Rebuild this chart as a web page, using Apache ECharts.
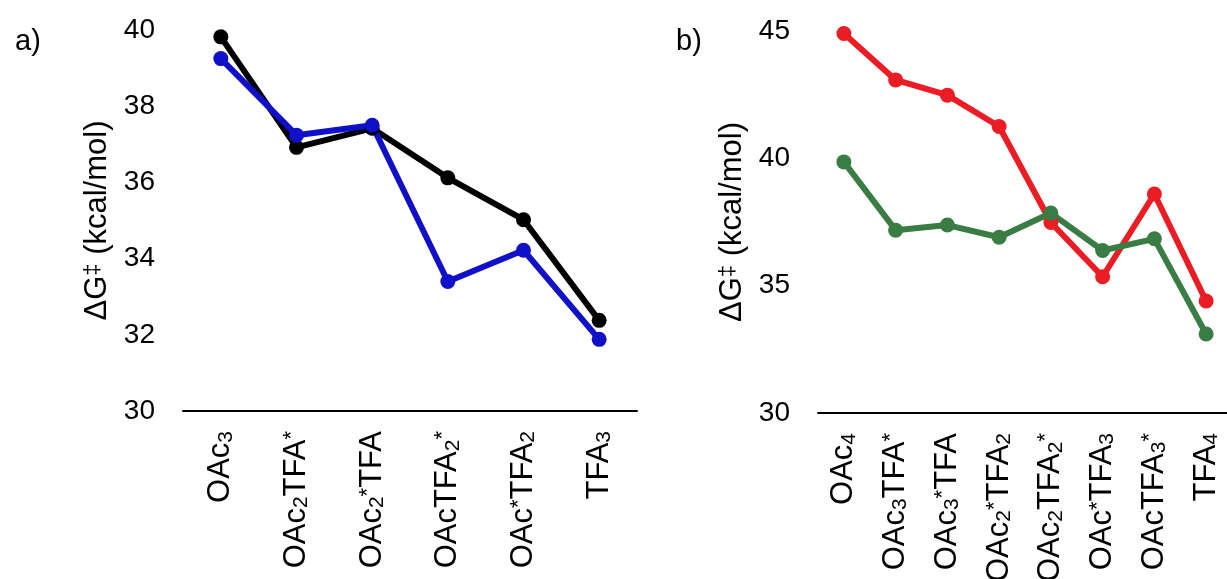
<!DOCTYPE html>
<html>
<head>
<meta charset="utf-8">
<script src="https://cdn.jsdelivr.net/npm/echarts@6/dist/echarts.min.js"></script>
<style>
html,body{margin:0;padding:0;background:#fff;}
#c{width:1227px;height:579px;}
</style>
</head>
<body>
<div id="c"></div>
<script>
// Panel a
const catsA = ['OAc{sub|3}', 'OAc{sub|2}TFA{sup|*}', 'OAc{sub|2}{sup|*}TFA', 'OAcTFA{sub|2}{sup|*}', 'OAc{sup|*}TFA{sub|2}', 'TFA{sub|3}'];
const blackA = [39.82, 36.92, 37.42, 36.12, 35.02, 32.38];
const blueA = [39.25, 37.24, 37.5, 33.4, 34.22, 31.88];
const ticksA = {min: 30, max: 40, interval: 2};

// Panel b
const catsB = ['OAc{sub|4}', 'OAc{sub|3}TFA{sup|*}', 'OAc{sub|3}{sup|*}TFA', 'OAc{sub|2}{sup|*}TFA{sub|2}', 'OAc{sub|2}TFA{sub|2}{sup|*}', 'OAc{sup|*}TFA{sub|3}', 'OAcTFA{sub|3}{sup|*}', 'TFA{sub|4}'];
const redB = [44.9, 43.08, 42.48, 41.25, 37.48, 35.35, 38.6, 34.4];
const greenB = [39.86, 37.18, 37.38, 36.9, 37.85, 36.38, 36.84, 33.1];
const ticksB = {min: 30, max: 45, interval: 5};

const FONT = 'Liberation Sans, Arial, sans-serif';
const richSub = {
  sub: {fontSize: 21, fontFamily: FONT, color: '#000', verticalAlign: 'bottom', lineHeight: 21, padding: [11, 0, 0, 0]},
  sup: {fontSize: 22, fontFamily: FONT, color: '#000', verticalAlign: 'top', lineHeight: 22}
};

function xAxis(idx, cats) {
  return {
    type: 'category', gridIndex: idx, data: cats, boundaryGap: true,
    axisLine: {show: true, lineStyle: {color: '#000', width: 2}},
    axisTick: {show: false},
    axisLabel: {
      rotate: 90, margin: 20, interval: 0, color: '#000', fontSize: 31, fontFamily: FONT,
      rich: richSub
    },
    splitLine: {show: false}
  };
}
function yAxis(idx, t) {
  return {
    type: 'value', gridIndex: idx, min: t.min, max: t.max, interval: t.interval,
    axisLine: {show: false}, axisTick: {show: false}, splitLine: {show: false},
    axisLabel: {color: '#000', fontSize: 28, fontFamily: FONT, margin: 28},
    name: 'ΔG{sup|‡} (kcal/mol)', nameLocation: 'middle', nameGap: 70, nameRotate: 90,
    nameTextStyle: {color: '#000', fontSize: 31, fontFamily: FONT,
      rich: {sup: {fontSize: 22, fontFamily: FONT, color: '#000', verticalAlign: 'top', lineHeight: 22}}}
  };
}
function line(xi, data, color) {
  return {
    type: 'line', xAxisIndex: xi, yAxisIndex: xi, data: data,
    symbol: 'circle', symbolSize: 15, showSymbol: true,
    lineStyle: {color: color, width: 6},
    itemStyle: {color: color},
    emphasis: {disabled: true}, animation: false
  };
}

const chart = echarts.init(document.getElementById('c'), null, {renderer: 'canvas'});
chart.setOption({
  animation: false,
  backgroundColor: '#fff',
  graphic: [
    {type: 'text', left: 15, top: 27, style: {text: 'a)', fontSize: 29, fontFamily: FONT, fill: '#000'}},
    {type: 'text', left: 676, top: 27, style: {text: 'b)', fontSize: 29, fontFamily: FONT, fill: '#000'}}
  ],
  grid: [
    {left: 183, width: 454, top: 30, height: 381, containLabel: false, outerBoundsMode: 'none'},
    {left: 818, width: 414, top: 31, height: 382, containLabel: false, outerBoundsMode: 'none'}
  ],
  xAxis: [xAxis(0, catsA), xAxis(1, catsB)],
  yAxis: [yAxis(0, ticksA), yAxis(1, ticksB)],
  series: [
    line(0, blackA, '#000000'),
    line(0, blueA, '#1010c8'),
    line(1, redB, '#ec1c24'),
    line(1, greenB, '#3a7d44')
  ]
});
</script>
</body>
</html>
